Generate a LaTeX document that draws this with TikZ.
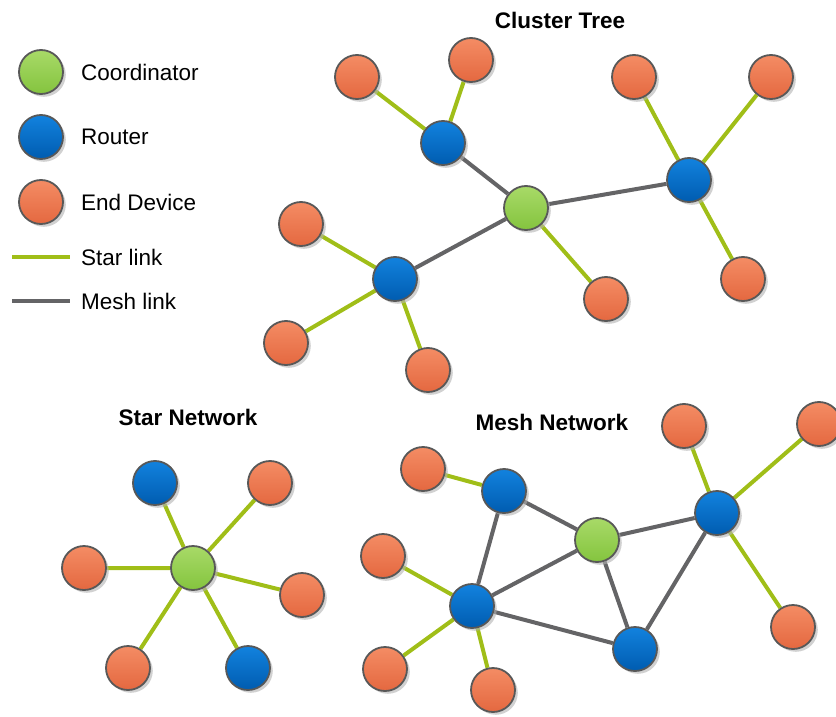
\documentclass[tikz,border=0pt]{standalone}
\usepackage{fontspec}
\setmainfont{Liberation Sans}
\usetikzlibrary{shadows}

\pgfdeclarelayer{links}
\pgfsetlayers{links,main}

\definecolor{rimgray}{RGB}{88,88,88}
\definecolor{coordA}{RGB}{168,218,104}
\definecolor{coordB}{RGB}{132,196,62}
\definecolor{routerA}{RGB}{18,130,222}
\definecolor{routerB}{RGB}{0,92,176}
\definecolor{endA}{RGB}{244,140,100}
\definecolor{endB}{RGB}{228,104,64}
\definecolor{starlink}{RGB}{160,190,24}
\definecolor{meshlink}{RGB}{100,100,102}

\tikzset{
  x=1pt, y=-1pt,
  dev/.style={circle, minimum size=44pt, inner sep=0pt, draw=rimgray,
    line width=1.8pt, shading angle=45,
    drop shadow={shadow xshift=2.8pt, shadow yshift=-2.8pt, fill=black!30, opacity=0.6}},
  coord/.style={dev, top color=coordA, bottom color=coordB},
  router/.style={dev, top color=routerA, bottom color=routerB},
  enddev/.style={dev, top color=endA, bottom color=endB},
  slink/.style={draw=starlink, line width=4pt},
  mlink/.style={draw=meshlink, line width=4pt},
  lbl/.style={anchor=west, inner sep=0pt, font=\fontsize{22.5}{27}\selectfont},
  ttl/.style={inner sep=0pt, font=\fontsize{22.5}{27}\selectfont\bfseries}
}

\begin{document}
\begin{tikzpicture}
\useasboundingbox (0,0) rectangle (836,717);

% ---------- legend ----------
\node[coord]  (lc) at (41,72)  {};
\node[router] (lr) at (41,137) {};
\node[enddev] (le) at (41,202) {};
\node[lbl] (tc) at (81,72)  {Coordinator};
\node[lbl] (tr) at (81,137) {Router};
\node[lbl] (te) at (81,202) {End Device};
\coordinate (sA) at (12,257);
\coordinate (sB) at (70,257);
\coordinate (mA) at (12,301);
\coordinate (mB) at (70,301);
\draw[slink] (sA) -- (sB);
\draw[mlink] (mA) -- (mB);
\node[lbl] (ts) at (81,257) {Star link};
\node[lbl] (tm) at (81,301) {Mesh link};

% ---------- cluster tree ----------
\node[ttl] (ctitle) at (560,20) {Cluster Tree};
\node[enddev] (CE1) at (357,77)  {};
\node[enddev] (CE2) at (471,60)  {};
\node[router] (CR1) at (443,143) {};
\node[coord]  (CC)  at (526,208) {};
\node[router] (CR2) at (689,180) {};
\node[enddev] (CE3) at (634,77)  {};
\node[enddev] (CE4) at (771,77)  {};
\node[enddev] (CE5) at (743,279) {};
\node[enddev] (CE6) at (606,299) {};
\node[router] (CR3) at (395,279) {};
\node[enddev] (CE7) at (301,224) {};
\node[enddev] (CE8) at (286,343) {};
\node[enddev] (CE9) at (428,370) {};
\begin{pgfonlayer}{links}
  \draw[slink] (CR1) -- (CE1) (CR1) -- (CE2)
               (CR2) -- (CE3) (CR2) -- (CE4) (CR2) -- (CE5)
               (CC) -- (CE6)
               (CR3) -- (CE7) (CR3) -- (CE8) (CR3) -- (CE9);
  \draw[mlink] (CC) -- (CR1) (CC) -- (CR2) (CC) -- (CR3);
\end{pgfonlayer}

% ---------- star network ----------
\node[ttl] (stitle) at (188,417) {Star Network};
\node[coord]  (SC)  at (193,568) {};
\node[router] (SR1) at (155,483) {};
\node[enddev] (SE1) at (270,483) {};
\node[enddev] (SE2) at (84,568)  {};
\node[enddev] (SE3) at (302,595) {};
\node[enddev] (SE4) at (128,668) {};
\node[router] (SR2) at (248,668) {};
\begin{pgfonlayer}{links}
  \draw[slink] (SC) -- (SR1) (SC) -- (SE1) (SC) -- (SE2)
               (SC) -- (SE3) (SC) -- (SE4) (SC) -- (SR2);
\end{pgfonlayer}

% ---------- mesh network ----------
\node[ttl] (mtitle) at (552,422) {Mesh Network};
\node[router] (RA)  at (504,491) {};
\node[coord]  (MC)  at (597,540) {};
\node[router] (RB)  at (717,513) {};
\node[router] (RC)  at (472,606) {};
\node[router] (RD)  at (635,649) {};
\node[enddev] (ME1) at (423,469) {};
\node[enddev] (ME2) at (684,426) {};
\node[enddev] (ME3) at (819,424) {};
\node[enddev] (ME4) at (793,627) {};
\node[enddev] (ME5) at (383,556) {};
\node[enddev] (ME6) at (385,669) {};
\node[enddev] (ME7) at (493,690) {};
\begin{pgfonlayer}{links}
  \draw[slink] (RA) -- (ME1)
               (RB) -- (ME2) (RB) -- (ME3) (RB) -- (ME4)
               (RC) -- (ME5) (RC) -- (ME6) (RC) -- (ME7);
  \draw[mlink] (RA) -- (MC) (RA) -- (RC) (MC) -- (RB) (MC) -- (RC)
               (MC) -- (RD) (RC) -- (RD) (RB) -- (RD);
\end{pgfonlayer}
\end{tikzpicture}
\end{document}
